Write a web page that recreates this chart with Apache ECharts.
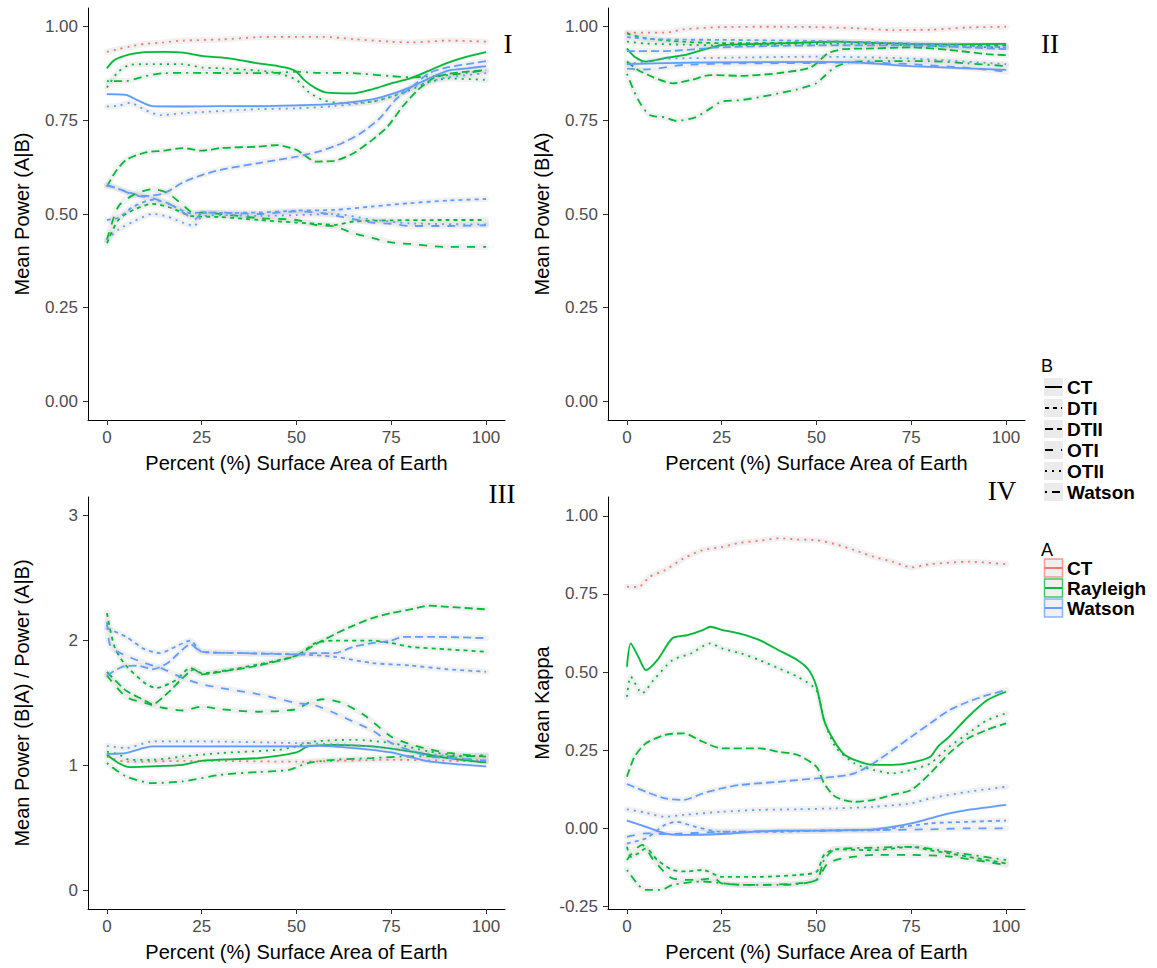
<!DOCTYPE html>
<html>
<head>
<meta charset="utf-8">
<script src="https://cdn.jsdelivr.net/npm/echarts@6/dist/echarts.min.js"></script>
<style>html,body{margin:0;padding:0;background:#fff}#c{width:1157px;height:968px}</style>
</head>
<body>
<div id="c"></div>
<script>
// ---------- tick labels ----------
const xTicks = [0, 25, 50, 75, 100];
const yTicksPower = [0, 0.25, 0.5, 0.75, 1];
const yTicksRatio = [0, 1, 2, 3];
const yTicksKappa = [-0.25, 0, 0.25, 0.5, 0.75, 1];
const panelTags = ['I', 'II', 'III', 'IV'];
const yTitles = ['Mean Power (A|B)', 'Mean Power (B|A)', 'Mean Power (B|A) / Power (A|B)', 'Mean Kappa'];
const xTitle = 'Percent (%) Surface Area of Earth';
const legendB = ['CT', 'DTI', 'DTII', 'OTI', 'OTII', 'Watson'];
const legendA = ['CT', 'Rayleigh', 'Watson'];

// ---------- Panel I : Mean Power (A|B) ----------
const p1_CT_OTII = [[0,0.933],[3,0.94],[6,0.947],[10,0.954],[15,0.958],[20,0.963],[30,0.966],[40,0.972],[50,0.973],[57,0.973],[65,0.967],[75,0.96],[80,0.958],[90,0.963],[100,0.96]];
const p1_Ra_CT = [[0,0.889],[2,0.911],[6,0.926],[10,0.932],[15,0.933],[20,0.931],[25,0.922],[30,0.918],[35,0.911],[40,0.902],[45,0.895],[48,0.889],[50,0.88],[52,0.858],[55,0.836],[58,0.824],[65,0.822],[70,0.833],[75,0.849],[80,0.862],[85,0.883],[90,0.904],[95,0.92],[100,0.932]];
const p1_Ra_OTII = [[0,0.838],[3,0.88],[6,0.898],[10,0.90],[20,0.90],[25,0.891],[30,0.889],[40,0.883],[45,0.876],[50,0.858],[53,0.827],[57,0.804],[62,0.796],[70,0.80],[75,0.813],[80,0.831],[85,0.852],[90,0.862],[100,0.858]];
const p1_Ra_Watson = [[0,0.855],[5,0.855],[10,0.868],[15,0.876],[25,0.877],[35,0.876],[45,0.877],[50,0.88],[55,0.877],[65,0.876],[75,0.868],[80,0.865],[90,0.871],[100,0.884]];
const p1_Ra_DTII = [[0,0.573],[2,0.609],[5,0.644],[10,0.664],[15,0.669],[20,0.676],[25,0.669],[30,0.676],[40,0.68],[45,0.684],[50,0.671],[52,0.658],[55,0.64],[60,0.642],[65,0.662],[70,0.698],[74,0.733],[78,0.787],[82,0.831],[86,0.862],[90,0.874],[95,0.88],[100,0.884]];
const p1_Wa_DTII = [[0,0.578],[5,0.56],[10,0.548],[15,0.555],[20,0.584],[25,0.604],[30,0.618],[40,0.636],[50,0.653],[53,0.66],[56,0.667],[62,0.689],[67,0.716],[72,0.756],[76,0.804],[80,0.836],[85,0.876],[90,0.892],[95,0.90],[100,0.908]];
const p1_Ra_OTI = [[0,0.431],[3,0.52],[7,0.551],[12,0.566],[16,0.556],[20,0.524],[23,0.502],[25,0.504],[30,0.50],[40,0.489],[50,0.484],[55,0.471],[60,0.467],[65,0.449],[70,0.436],[75,0.424],[80,0.42],[85,0.415],[90,0.412],[100,0.412]];
const p1_Ra_DTI = [[0,0.422],[3,0.484],[7,0.511],[12,0.527],[17,0.516],[22,0.495],[25,0.493],[30,0.492],[40,0.484],[50,0.477],[55,0.474],[60,0.471],[65,0.48],[75,0.483],[90,0.484],[100,0.484]];
const p1_Wa_OTI = [[0,0.576],[3,0.568],[7,0.551],[12,0.542],[17,0.524],[21,0.498],[23,0.484],[25,0.502],[30,0.504],[40,0.50],[50,0.507],[57,0.502],[65,0.486],[70,0.477],[75,0.474],[80,0.468],[90,0.468],[100,0.47]];
const p1_Wa_DTI = [[0,0.484],[3,0.49],[7,0.52],[12,0.538],[16,0.529],[22,0.502],[25,0.504],[30,0.503],[40,0.504],[50,0.509],[60,0.511],[70,0.52],[80,0.529],[90,0.536],[100,0.54]];
const p1_Wa_Watson = [[0,0.431],[3,0.458],[7,0.48],[12,0.50],[16,0.493],[20,0.477],[23,0.468],[25,0.493],[30,0.497],[40,0.495],[50,0.497],[60,0.50],[70,0.485],[80,0.475],[100,0.472]];
const p1_Wa_CT = [[0,0.82],[5,0.818],[8,0.804],[12,0.788],[20,0.787],[30,0.788],[40,0.788],[50,0.79],[60,0.794],[70,0.806],[75,0.82],[80,0.838],[85,0.862],[90,0.883],[95,0.889],[100,0.895]];
const p1_Wa_OTII = [[0,0.787],[3,0.789],[6,0.797],[10,0.778],[14,0.764],[20,0.769],[30,0.775],[40,0.78],[50,0.782],[60,0.788],[70,0.80],[75,0.813],[80,0.836],[85,0.853],[90,0.865],[100,0.876]];

// ---------- Panel II : Mean Power (B|A) ----------
const p2_CT_OTII = [[0,0.984],[10,0.984],[15,0.993],[25,0.999],[40,1.0],[50,0.999],[60,0.996],[70,0.991],[80,0.992],[90,0.998],[100,1.0]];
const p2_Ra_CT = [[0,0.942],[2,0.92],[5,0.907],[10,0.916],[15,0.924],[20,0.938],[25,0.951],[35,0.954],[45,0.957],[55,0.96],[65,0.957],[75,0.954],[85,0.953],[100,0.954]];
const p2_Ra_DTII = [[0,0.907],[3,0.884],[7,0.865],[12,0.849],[17,0.858],[22,0.871],[30,0.869],[40,0.876],[48,0.889],[50,0.902],[53,0.929],[57,0.94],[65,0.942],[75,0.945],[85,0.938],[95,0.927],[100,0.924]];
const p2_Ra_Watson = [[0,0.874],[3,0.804],[6,0.764],[10,0.758],[13,0.749],[18,0.758],[22,0.782],[25,0.80],[30,0.804],[35,0.812],[40,0.822],[45,0.833],[50,0.849],[52,0.867],[55,0.893],[60,0.907],[70,0.908],[80,0.908],[90,0.902],[100,0.895]];
const p2_Ra_DTI = [[0,0.982],[5,0.969],[15,0.96],[25,0.956],[40,0.957],[55,0.96],[70,0.956],[85,0.951],[100,0.95]];
const p2_Ra_OTII = [[0,0.96],[5,0.955],[15,0.952],[25,0.95],[40,0.952],[55,0.955],[70,0.952],[85,0.947],[100,0.945]];
const p2_Wa_DTI = [[0,0.972],[10,0.966],[25,0.965],[50,0.962],[75,0.955],[100,0.945]];
const p2_Wa_DTII = [[0,0.935],[10,0.935],[25,0.945],[50,0.95],[75,0.95],[100,0.94]];
const p2_Wa_OTII = [[0,0.90],[10,0.914],[25,0.917],[50,0.92],[75,0.915],[100,0.90]];
const p2_Wa_CT = [[0,0.90],[10,0.903],[25,0.905],[50,0.906],[60,0.905],[75,0.895],[100,0.885]];
const p2_Wa_OTI = [[0,0.888],[5,0.886],[15,0.898],[30,0.902],[50,0.903],[60,0.905],[75,0.9],[90,0.89],[100,0.88]];

// ---------- Panel III : Power ratio ----------
const p3_CT_OTII = [[0,1.07],[5,1.03],[25,1.037],[50,1.03],[75,1.045],[100,1.03]];
const p3_Ra_CT = [[0,1.085],[3,1.02],[6,0.987],[12,0.992],[20,1.005],[25,1.037],[40,1.059],[50,1.104],[53,1.152],[60,1.165],[70,1.152],[80,1.112],[90,1.059],[100,1.024]];
const p3_Ra_OTII = [[0,1.11],[3,1.09],[6,1.045],[12,1.045],[20,1.072],[30,1.099],[45,1.125],[50,1.152],[55,1.192],[65,1.205],[75,1.179],[85,1.112],[95,1.072],[100,1.085]];
const p3_Ra_Watson = [[0,1.019],[5,0.912],[12,0.859],[20,0.872],[30,0.925],[40,0.947],[48,0.965],[53,1.019],[60,1.045],[70,1.059],[80,1.072],[90,1.072],[100,1.077]];
const p3_Ra_DTII = [[0,1.75],[5,1.60],[10,1.52],[12,1.49],[16,1.58],[20,1.70],[23,1.77],[25,1.73],[30,1.75],[40,1.80],[50,1.88],[55,1.97],[60,2.05],[65,2.12],[70,2.18],[75,2.22],[80,2.25],[85,2.28],[90,2.27],[100,2.25]];
const p3_Ra_DTI = [[0,2.22],[2,1.95],[5,1.80],[10,1.66],[13,1.62],[18,1.68],[22,1.78],[25,1.74],[35,1.78],[50,1.88],[55,1.98],[60,2.0],[70,2.0],[75,1.98],[80,1.95],[90,1.93],[100,1.91]];
const p3_Ra_OTI = [[0,1.72],[5,1.55],[10,1.50],[15,1.46],[20,1.44],[25,1.47],[30,1.45],[40,1.43],[50,1.45],[53,1.50],[57,1.53],[62,1.50],[68,1.40],[75,1.23],[80,1.17],[85,1.13],[90,1.10],[100,1.07]];
const p3_Wa_DTI = [[0,2.10],[5,2.03],[10,1.93],[14,1.90],[18,1.95],[22,2.00],[25,1.91],[35,1.90],[50,1.89],[60,1.87],[70,1.82],[80,1.80],[90,1.77],[100,1.75]];
const p3_Wa_DTII = [[0,1.72],[4,1.79],[8,1.80],[12,1.77],[16,1.82],[20,1.93],[22,1.97],[25,1.91],[35,1.90],[50,1.89],[55,1.90],[60,1.90],[65,1.95],[70,1.98],[75,2.0],[78,2.03],[85,2.03],[100,2.02]];
const p3_Wa_OTI = [[0,2.15],[1,1.95],[5,1.88],[10,1.82],[15,1.77],[20,1.70],[25,1.65],[30,1.62],[40,1.57],[50,1.50],[55,1.48],[60,1.42],[65,1.35],[70,1.28],[75,1.18],[80,1.12],[85,1.07],[90,1.06],[100,1.04]];
const p3_Wa_CT = [[0,1.093],[5,1.099],[12,1.152],[20,1.152],[50,1.152],[56,1.157],[65,1.139],[75,1.104],[85,1.032],[100,0.992]];
const p3_Wa_OTII = [[0,1.157],[5,1.139],[12,1.192],[25,1.192],[50,1.179],[60,1.17],[70,1.152],[80,1.115],[90,1.072],[100,1.032]];

// ---------- Panel IV : Mean Kappa ----------
const p4_CT_OTII = [[0,0.773],[3,0.772],[6,0.805],[10,0.826],[15,0.864],[20,0.89],[25,0.90],[30,0.914],[35,0.92],[40,0.928],[45,0.924],[50,0.922],[55,0.909],[60,0.89],[65,0.869],[70,0.853],[75,0.835],[80,0.845],[90,0.853],[100,0.845]];
const p4_Ra_CT = [[0,0.517],[1,0.592],[3,0.549],[5,0.506],[8,0.538],[12,0.608],[16,0.618],[20,0.634],[22,0.645],[25,0.635],[30,0.622],[35,0.602],[40,0.57],[45,0.538],[48,0.506],[50,0.453],[52,0.346],[54,0.293],[57,0.24],[60,0.219],[65,0.203],[70,0.203],[75,0.21],[80,0.229],[82,0.261],[85,0.293],[90,0.357],[95,0.41],[100,0.437]];
const p4_Ra_OTII = [[0,0.421],[1,0.485],[4,0.432],[7,0.474],[12,0.538],[17,0.56],[22,0.592],[25,0.576],[30,0.56],[35,0.538],[40,0.512],[45,0.485],[50,0.442],[52,0.346],[55,0.261],[60,0.208],[65,0.187],[70,0.176],[75,0.187],[80,0.208],[85,0.261],[90,0.304],[95,0.346],[100,0.368]];
const p4_Ra_DTII = [[0,0.165],[2,0.229],[5,0.272],[10,0.299],[15,0.304],[20,0.277],[25,0.256],[35,0.256],[40,0.245],[45,0.235],[50,0.197],[52,0.144],[55,0.101],[60,0.085],[65,0.091],[70,0.107],[75,0.123],[80,0.176],[85,0.24],[90,0.288],[95,0.315],[100,0.336]];
const p4_Wa_DTII = [[0,0.142],[5,0.117],[10,0.096],[15,0.091],[20,0.112],[25,0.128],[30,0.139],[40,0.149],[50,0.16],[55,0.165],[60,0.176],[65,0.208],[70,0.25],[75,0.293],[80,0.336],[85,0.378],[90,0.405],[95,0.426],[100,0.442]];
const p4_Wa_OTII = [[0,0.061],[5,0.05],[10,0.037],[15,0.043],[25,0.053],[35,0.059],[45,0.061],[55,0.064],[65,0.069],[75,0.08],[80,0.096],[90,0.117],[100,0.133]];
const p4_Wa_CT = [[0,0.025],[5,0.005],[10,-0.016],[15,-0.021],[25,-0.018],[40,-0.007],[50,-0.007],[60,-0.005],[65,-0.003],[70,0.005],[75,0.016],[80,0.032],[85,0.048],[90,0.059],[100,0.075]];
const p4_Wa_DTI = [[0,-0.048],[5,-0.032],[10,0.011],[13,0.021],[18,0.005],[25,-0.011],[40,-0.011],[55,-0.006],[65,-0.006],[70,0.0],[80,0.016],[90,0.021],[100,0.025]];
const p4_Wa_OTI = [[0,-0.027],[5,-0.016],[10,-0.018],[25,-0.011],[50,-0.008],[70,-0.005],[80,-0.003],[90,0.0],[100,0.0]];
const p4_Ra_DTI = [[0,-0.059],[1,-0.091],[3,-0.08],[5,-0.064],[8,-0.101],[12,-0.133],[16,-0.138],[20,-0.133],[25,-0.155],[35,-0.155],[45,-0.149],[50,-0.139],[52,-0.085],[55,-0.067],[65,-0.07],[75,-0.059],[80,-0.07],[85,-0.08],[90,-0.091],[100,-0.112]];
const p4_Ra_OTI = [[0,-0.101],[2,-0.07],[4,-0.053],[7,-0.101],[12,-0.16],[18,-0.165],[23,-0.16],[25,-0.176],[35,-0.181],[45,-0.176],[50,-0.165],[53,-0.112],[57,-0.096],[65,-0.085],[75,-0.085],[85,-0.09],[100,-0.117]];
const p4_Ra_Watson = [[0,-0.133],[3,-0.181],[5,-0.197],[9,-0.197],[12,-0.181],[20,-0.17],[30,-0.181],[40,-0.181],[50,-0.165],[52,-0.101],[55,-0.067],[65,-0.062],[75,-0.059],[85,-0.075],[100,-0.101]];

// ---------- styling ----------
const COLORS = { CT: '#F8766D', Rayleigh: '#00BA38', Watson: '#619CFF' };
const DASH = { CT: 'solid', DTI: [4, 4], DTII: [8, 4], OTI: [8, 8], OTII: [2, 5], Watson: [2, 5, 8, 5] };
const FONT = '"Liberation Sans", Arial, sans-serif';

const specs = [
  [0,'CT','OTII',p1_CT_OTII],[0,'Rayleigh','CT',p1_Ra_CT],[0,'Rayleigh','OTII',p1_Ra_OTII],[0,'Rayleigh','Watson',p1_Ra_Watson],
  [0,'Rayleigh','DTII',p1_Ra_DTII],[0,'Watson','DTII',p1_Wa_DTII],[0,'Rayleigh','OTI',p1_Ra_OTI],[0,'Rayleigh','DTI',p1_Ra_DTI],
  [0,'Watson','OTI',p1_Wa_OTI],[0,'Watson','DTI',p1_Wa_DTI],[0,'Watson','OTII',p1_Wa_Watson],[0,'Watson','CT',p1_Wa_CT],[0,'Watson','OTII',p1_Wa_OTII],
  [1,'CT','OTII',p2_CT_OTII],[1,'Rayleigh','CT',p2_Ra_CT],[1,'Rayleigh','DTII',p2_Ra_DTII],[1,'Rayleigh','Watson',p2_Ra_Watson],
  [1,'Rayleigh','DTI',p2_Ra_DTI],[1,'Rayleigh','OTII',p2_Ra_OTII],[1,'Watson','DTI',p2_Wa_DTI],[1,'Watson','DTII',p2_Wa_DTII],
  [1,'Watson','OTII',p2_Wa_OTII],[1,'Watson','CT',p2_Wa_CT],[1,'Watson','OTI',p2_Wa_OTI],
  [2,'CT','OTII',p3_CT_OTII],[2,'Rayleigh','CT',p3_Ra_CT],[2,'Rayleigh','OTII',p3_Ra_OTII],[2,'Rayleigh','Watson',p3_Ra_Watson],
  [2,'Rayleigh','DTII',p3_Ra_DTII],[2,'Rayleigh','DTI',p3_Ra_DTI],[2,'Rayleigh','OTI',p3_Ra_OTI],[2,'Watson','DTI',p3_Wa_DTI],
  [2,'Watson','DTII',p3_Wa_DTII],[2,'Watson','OTI',p3_Wa_OTI],[2,'Watson','CT',p3_Wa_CT],[2,'Watson','OTII',p3_Wa_OTII],
  [3,'CT','OTII',p4_CT_OTII],[3,'Rayleigh','CT',p4_Ra_CT],[3,'Rayleigh','OTII',p4_Ra_OTII],[3,'Rayleigh','DTII',p4_Ra_DTII],
  [3,'Watson','DTII',p4_Wa_DTII],[3,'Watson','OTII',p4_Wa_OTII],[3,'Watson','CT',p4_Wa_CT],[3,'Watson','DTI',p4_Wa_DTI],
  [3,'Watson','OTI',p4_Wa_OTI],[3,'Rayleigh','DTI',p4_Ra_DTI],[3,'Rayleigh','OTI',p4_Ra_OTI],[3,'Rayleigh','Watson',p4_Ra_Watson]
];

const gridPos = [
  { left: 88, top: 8, width: 417, height: 412 },
  { left: 608, top: 8, width: 417, height: 412 },
  { left: 88, top: 497, width: 417, height: 412 },
  { left: 608, top: 497, width: 417, height: 412 }
];
const yRange = [[-0.05, 1.05], [-0.05, 1.05], [-0.15, 3.15], [-0.258, 1.06]];
const yTickSets = [yTicksPower, yTicksPower, yTicksRatio, yTicksKappa];
const yFmt = [v => v.toFixed(2), v => v.toFixed(2), v => String(Math.round(v)), v => v.toFixed(2)];

const xAxes = [], yAxes = [], series = [];
for (let i = 0; i < 4; i++) {
  xAxes.push({
    gridIndex: i, type: 'value', min: -5, max: 105,
    axisLine: { show: true, onZero: false, lineStyle: { color: '#000', width: 1 } },
    axisTick: { show: true, length: 5, customValues: xTicks, lineStyle: { color: '#333', width: 1 } },
    axisLabel: { customValues: xTicks, color: '#4d4d4d', fontSize: 17, fontFamily: FONT, margin: 9 },
    splitLine: { show: false },
    name: xTitle, nameLocation: 'middle', nameGap: 33,
    nameTextStyle: { color: '#000', fontSize: 20, fontFamily: FONT }
  });
  yAxes.push({
    gridIndex: i, type: 'value', min: yRange[i][0], max: yRange[i][1],
    axisLine: { show: true, onZero: false, lineStyle: { color: '#000', width: 1 } },
    axisTick: { show: true, length: 5, customValues: yTickSets[i], lineStyle: { color: '#333', width: 1 } },
    axisLabel: { customValues: yTickSets[i], formatter: yFmt[i], color: '#4d4d4d', fontSize: 17, fontFamily: FONT, margin: 10 },
    splitLine: { show: false },
    name: yTitles[i], nameLocation: 'middle', nameGap: 56,
    nameTextStyle: { color: '#000', fontSize: 20, fontFamily: FONT }
  });
}

specs.forEach(([p, A, B, d]) => {
  series.push({
    type: 'line', xAxisIndex: p, yAxisIndex: p, data: d, showSymbol: false, smooth: 0.25,
    silent: true, z: 1,
    lineStyle: { color: 'rgba(190,190,190,0.22)', width: B === 'CT' ? 3 : 6, cap: 'round' }
  });
});
specs.forEach(([p, A, B, d]) => {
  series.push({
    type: 'line', xAxisIndex: p, yAxisIndex: p, data: d, showSymbol: false, smooth: 0.25,
    silent: true, z: 3,
    lineStyle: { color: COLORS[A], width: 1.8, type: DASH[B] }
  });
});

// ---------- legends and panel tags (graphic) ----------
const graphic = [];
const tagPos = [[508, 44], [1050, 44], [502, 494], [1002, 491]];
panelTags.forEach((t, i) => graphic.push({
  type: 'text', style: { text: t, x: tagPos[i][0], y: tagPos[i][1], fill: '#000', fontSize: 27,
    fontFamily: '"Liberation Serif", "Times New Roman", serif', align: 'center', verticalAlign: 'middle' }
}));

graphic.push({ type: 'text', style: { text: 'B', x: 1041, y: 366, fill: '#000', fontSize: 18, fontFamily: FONT, verticalAlign: 'middle' } });
legendB.forEach((b, k) => {
  const cy = 387 + k * 21;
  graphic.push({ type: 'rect', shape: { x: 1044, y: cy - 9, width: 19, height: 18 }, style: { fill: '#ebebeb' } });
  graphic.push({ type: 'line', shape: { x1: 1045, y1: cy, x2: 1062, y2: cy },
    style: { stroke: '#000', lineWidth: 2, lineDash: DASH[b] === 'solid' ? null : DASH[b] } });
  graphic.push({ type: 'text', style: { text: b, x: 1067, y: cy, fill: '#000', fontSize: 19, fontWeight: 'bold', fontFamily: FONT, verticalAlign: 'middle' } });
});

graphic.push({ type: 'text', style: { text: 'A', x: 1041, y: 550, fill: '#000', fontSize: 18, fontFamily: FONT, verticalAlign: 'middle' } });
legendA.forEach((a, k) => {
  const cy = 568 + k * 20;
  graphic.push({ type: 'rect', shape: { x: 1044.5, y: cy - 9, width: 18, height: 18 },
    style: { fill: '#ebebeb', stroke: COLORS[a], lineWidth: 1.5, opacity: 0.75 } });
  graphic.push({ type: 'line', shape: { x1: 1045, y1: cy, x2: 1062, y2: cy }, style: { stroke: COLORS[a], lineWidth: 2 } });
  graphic.push({ type: 'text', style: { text: a, x: 1067, y: cy, fill: '#000', fontSize: 19, fontWeight: 'bold', fontFamily: FONT, verticalAlign: 'middle' } });
});

const chart = echarts.init(document.getElementById('c'), null, { renderer: 'svg', width: 1157, height: 968 });
chart.setOption({
  animation: false,
  backgroundColor: '#fff',
  grid: gridPos.map(g => Object.assign({ containLabel: false }, g)),
  xAxis: xAxes,
  yAxis: yAxes,
  series: series,
  graphic: graphic
});
</script>
</body>
</html>
